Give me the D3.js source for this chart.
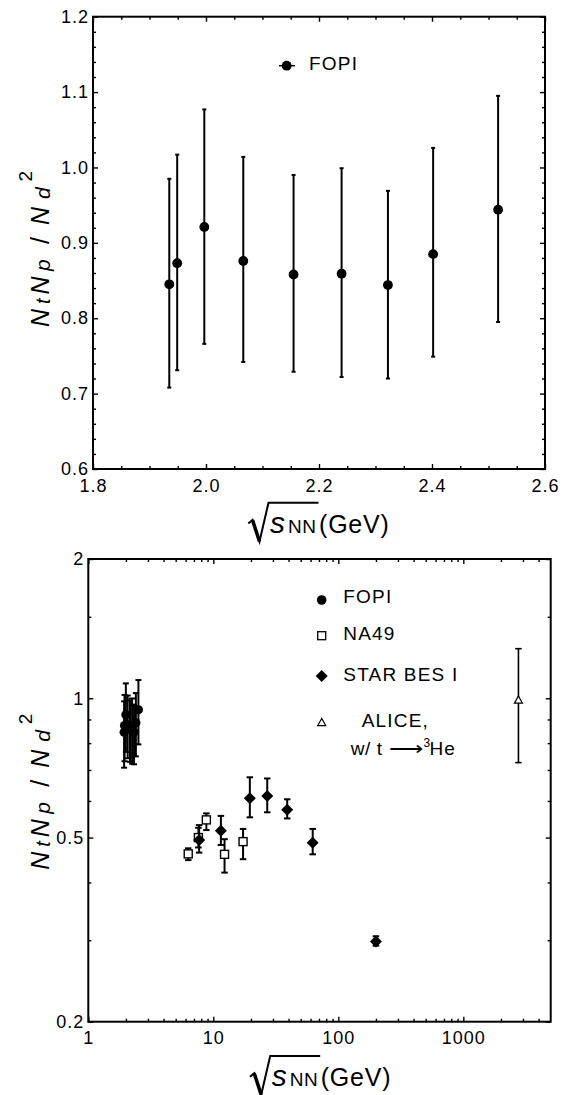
<!DOCTYPE html>
<html><head><meta charset="utf-8">
<script src="https://cdn.jsdelivr.net/npm/d3@7"></script>
<style>
html,body{margin:0;padding:0;background:#fff;}
svg{display:block;}
text{font-family:"Liberation Sans",Arial,Helvetica,sans-serif;fill:#000;}
</style></head><body>
<svg id="chart" width="569" height="1095"></svg>
<script>
// ---------------- data ----------------
const fopiX  = [1.935, 1.949, 1.997, 2.066, 2.155, 2.240, 2.322, 2.402, 2.517];
const fopiY  = [0.845, 0.873, 0.921, 0.876, 0.858, 0.859, 0.844, 0.885, 0.944];
const fopiHi = [0.985, 1.017, 1.077, 1.014, 0.990, 0.999, 0.969, 1.026, 1.095];
const fopiLo = [0.708, 0.731, 0.766, 0.742, 0.729, 0.722, 0.720, 0.749, 0.795];

const na49X  = [6.3, 7.6, 8.8, 12.3, 17.3];
const na49Y  = [0.461, 0.500, 0.546, 0.460, 0.490];
const na49Hi = [0.474, 0.525, 0.564, 0.496, 0.522];
const na49Lo = [0.447, 0.476, 0.519, 0.420, 0.449];

const starX  = [7.7, 11.5, 19.6, 27, 39, 62.4, 200];
const starY  = [0.494, 0.517, 0.608, 0.615, 0.574, 0.487, 0.298];
const starHi = [0.532, 0.557, 0.675, 0.671, 0.605, 0.522, 0.306];
const starLo = [0.464, 0.482, 0.553, 0.567, 0.550, 0.460, 0.292];

const aliceX  = [2760];
const aliceY  = [0.99];
const aliceHi = [1.28];
const aliceLo = [0.726];

const topXTicks = [1.8, 2.0, 2.2, 2.4, 2.6];
const topYTicks = [0.6, 0.7, 0.8, 0.9, 1.0, 1.1, 1.2];
const botXTicks = [1, 10, 100, 1000];
const botYTicks = [0.2, 0.5, 1, 2];
const botYMinor = [0.3, 0.4, 0.6, 0.7, 0.8, 0.9, 1.5];
const botXMinor = [2,3,4,5,6,7,8,9,20,30,40,50,60,70,80,90,200,300,400,500,600,700,800,900,2000,3000,4000];

const legendTop = ["FOPI"];
const legendBot = ["FOPI", "NA49", "STAR BES I", "ALICE,"];

// ---------------- helpers ----------------
const svg = d3.select("#chart");
const FONT = '"Liberation Sans",Arial,Helvetica,sans-serif';

function styleAxis(g, fs){
  g.attr("font-size", fs).attr("font-family", FONT);
  g.select(".domain").remove();
  g.selectAll(".tick line").attr("stroke","#000").attr("stroke-width",1.4);
  g.selectAll(".tick text").attr("fill","#000").attr("letter-spacing",1);
}

function frame(P){
  svg.append("rect").attr("x",P.left).attr("y",P.top)
    .attr("width",P.right-P.left).attr("height",P.bottom-P.top)
    .attr("fill","none").attr("stroke","#000").attr("stroke-width",2);
}

function errBars(g, xs, ys, his, los, x, y, cap, sw){
  xs.forEach((xv,i)=>{
    const cx = x(xv);
    g.append("line").attr("x1",cx).attr("x2",cx).attr("y1",y(his[i])).attr("y2",y(los[i]))
      .attr("stroke","#000").attr("stroke-width",sw);
    [his[i],los[i]].forEach(v=>{
      g.append("line").attr("x1",cx-cap/2).attr("x2",cx+cap/2).attr("y1",y(v)).attr("y2",y(v))
        .attr("stroke","#000").attr("stroke-width",sw);
    });
  });
}

function diamondPath(cx,cy,w,h){
  return `M${cx},${cy-h/2}L${cx+w/2},${cy}L${cx},${cy+h/2}L${cx-w/2},${cy}Z`;
}
function trianglePath(cx,cy,s){
  const h = s*0.9;
  return `M${cx},${cy-h*0.6}L${cx+s/2},${cy+h*0.4}L${cx-s/2},${cy+h*0.4}Z`;
}

// rotated y title; (bx = baseline screen x, cy = centre screen y)
function yTitle(bx, cy){
  const g = svg.append("g").attr("transform",`translate(${bx},${cy}) rotate(-90)`);
  const t = g.append("text").attr("font-size",25);
  const s0 = -79.5;
  t.append("tspan").attr("x",s0).attr("y",0).attr("font-style","italic").text("N");
  t.append("tspan").attr("x",s0+23).attr("y",1).attr("font-style","italic").attr("font-size",20).text("t");
  t.append("tspan").attr("x",s0+32.5).attr("y",0).attr("font-style","italic").text("N");
  t.append("tspan").attr("x",s0+56).attr("y",1).attr("font-style","italic").attr("font-size",21).text("p");
  t.append("tspan").attr("x",s0+83).attr("y",0).text("/");
  t.append("tspan").attr("x",s0+102).attr("y",0).attr("font-style","italic").text("N");
  t.append("tspan").attr("x",s0+128).attr("y",1).attr("font-style","italic").attr("font-size",21).text("d");
  t.append("tspan").attr("x",s0+145.5).attr("y",-17.3).attr("font-size",19).text("2");
}

function xTitle(ox, oy){
  const g = svg.append("g").attr("transform",`translate(${ox},${oy})`);
  g.append("path").attr("d","M248.3,523.5L252.5,520L259.5,541.5L268.5,502.7L318.5,502.7")
    .attr("fill","none").attr("stroke","#000").attr("stroke-width",2).attr("stroke-linejoin","miter");
  g.append("path").attr("d","M252.5,520L259.5,541.5").attr("stroke","#000").attr("stroke-width",3.5);
  const t = g.append("text").attr("x",270).attr("y",533).attr("font-size",30);
  t.append("tspan").attr("font-style","italic").text("s");
  t.append("tspan").attr("font-size",19).attr("x",288).attr("letter-spacing",0.5).text("NN");
  t.append("tspan").attr("font-size",25).attr("x",319).attr("letter-spacing",0.8).text("(GeV)");
}

// ---------------- top panel ----------------
const T = {left:93, top:16.7, right:545, bottom:469};
const xTop = d3.scaleLinear().domain([1.8,2.6]).range([T.left,T.right]);
const yTop = d3.scaleLinear().domain([0.6,1.2]).range([T.bottom,T.top]);
const topXMinor = d3.range(0,17).map(i=>+(1.8+i*0.05).toFixed(2)).filter(v=>!topXTicks.some(t=>Math.abs(t-v)<1e-6));
const topYMinor = d3.range(0,31).map(i=>+(0.6+i*0.02).toFixed(2)).filter(v=>!topYTicks.some(t=>Math.abs(t-v)<1e-6));

svg.append("g").attr("transform",`translate(0,${T.bottom})`)
  .call(d3.axisBottom(xTop).tickValues(topXTicks).tickSize(-5).tickPadding(10).tickFormat(d3.format(".1f")))
  .call(g=>styleAxis(g,18));
svg.append("g").attr("transform",`translate(0,${T.bottom})`)
  .call(d3.axisBottom(xTop).tickValues(topXMinor).tickSize(-3).tickFormat(""))
  .call(g=>styleAxis(g,18));
svg.append("g").attr("transform",`translate(0,${T.top})`)
  .call(d3.axisTop(xTop).tickValues(topXTicks).tickSize(-5).tickFormat(""))
  .call(g=>styleAxis(g,18));
svg.append("g").attr("transform",`translate(0,${T.top})`)
  .call(d3.axisTop(xTop).tickValues(topXMinor).tickSize(-3).tickFormat(""))
  .call(g=>styleAxis(g,18));
svg.append("g").attr("transform",`translate(${T.left},0)`)
  .call(d3.axisLeft(yTop).tickValues(topYTicks).tickSize(-5).tickPadding(4).tickFormat(d3.format(".1f")))
  .call(g=>styleAxis(g,18));
svg.append("g").attr("transform",`translate(${T.left},0)`)
  .call(d3.axisLeft(yTop).tickValues(topYMinor).tickSize(-3).tickFormat(""))
  .call(g=>styleAxis(g,18));
svg.append("g").attr("transform",`translate(${T.right},0)`)
  .call(d3.axisRight(yTop).tickValues(topYTicks).tickSize(-5).tickFormat(""))
  .call(g=>styleAxis(g,18));
svg.append("g").attr("transform",`translate(${T.right},0)`)
  .call(d3.axisRight(yTop).tickValues(topYMinor).tickSize(-3).tickFormat(""))
  .call(g=>styleAxis(g,18));
frame(T);

const gTop = svg.append("g");
errBars(gTop, fopiX, fopiY, fopiHi, fopiLo, xTop, yTop, 4, 2);
gTop.selectAll("circle").data(fopiX).join("circle")
  .attr("cx",d=>xTop(d)).attr("cy",(d,i)=>yTop(fopiY[i])).attr("r",4.9).attr("fill","#000");

// top legend
svg.append("line").attr("x1",279).attr("x2",295).attr("y1",65.7).attr("y2",65.7).attr("stroke","#000").attr("stroke-width",1.5);
svg.append("circle").attr("cx",286.7).attr("cy",65.7).attr("r",4.9).attr("fill","#000");
svg.append("text").attr("x",309).attr("y",69.5).attr("font-size",19).attr("letter-spacing",1.2).text(legendTop[0]);

yTitle(49.3, 247.5);
xTitle(0, 0);

// ---------------- bottom panel ----------------
const B = {left:88.3, top:559, right:550.7, bottom:1021.7};
const xBot = d3.scaleLog().domain([1,5000]).range([B.left,B.right]);
const yBot = d3.scaleLog().domain([0.2,2]).range([B.bottom,B.top]);

svg.append("g").attr("transform",`translate(0,${B.bottom})`)
  .call(d3.axisBottom(xBot).tickValues(botXTicks).tickSize(-5).tickPadding(10).tickFormat(d3.format("d")))
  .call(g=>styleAxis(g,18));
svg.append("g").attr("transform",`translate(0,${B.bottom})`)
  .call(d3.axisBottom(xBot).tickValues(botXMinor).tickSize(-3).tickFormat(""))
  .call(g=>styleAxis(g,18));
svg.append("g").attr("transform",`translate(0,${B.top})`)
  .call(d3.axisTop(xBot).tickValues(botXTicks).tickSize(-5).tickFormat(""))
  .call(g=>styleAxis(g,18));
svg.append("g").attr("transform",`translate(0,${B.top})`)
  .call(d3.axisTop(xBot).tickValues(botXMinor).tickSize(-3).tickFormat(""))
  .call(g=>styleAxis(g,18));
svg.append("g").attr("transform",`translate(${B.left},0)`)
  .call(d3.axisLeft(yBot).tickValues(botYTicks).tickSize(-5).tickPadding(4).tickFormat(d=>String(d)))
  .call(g=>styleAxis(g,18));
svg.append("g").attr("transform",`translate(${B.left},0)`)
  .call(d3.axisLeft(yBot).tickValues(botYMinor).tickSize(-3).tickFormat(""))
  .call(g=>styleAxis(g,18));
svg.append("g").attr("transform",`translate(${B.right},0)`)
  .call(d3.axisRight(yBot).tickValues(botYTicks).tickSize(-5).tickFormat(""))
  .call(g=>styleAxis(g,18));
svg.append("g").attr("transform",`translate(${B.right},0)`)
  .call(d3.axisRight(yBot).tickValues(botYMinor).tickSize(-3).tickFormat(""))
  .call(g=>styleAxis(g,18));
frame(B);

const gB = svg.append("g");
// FOPI
errBars(gB, fopiX, fopiY, fopiHi, fopiLo, xBot, yBot, 6, 2);
fopiX.forEach((xv,i)=>{
  gB.append("circle").attr("cx",xBot(xv)).attr("cy",yBot(fopiY[i])).attr("r",4.6).attr("fill","#000");
});
// NA49
errBars(gB, na49X, na49Y, na49Hi, na49Lo, xBot, yBot, 6.5, 2);
na49X.forEach((xv,i)=>{
  gB.append("rect").attr("x",xBot(xv)-4).attr("y",yBot(na49Y[i])-4).attr("width",8).attr("height",8)
    .attr("fill","#fff").attr("stroke","#000").attr("stroke-width",1.4);
});
// STAR
errBars(gB, starX, starY, starHi, starLo, xBot, yBot, 6.5, 2);
starX.forEach((xv,i)=>{
  gB.append("path").attr("d",diamondPath(xBot(xv),yBot(starY[i]),12,12)).attr("fill","#000");
});
// ALICE
errBars(gB, aliceX, aliceY, aliceHi, aliceLo, xBot, yBot, 6.5, 1.6);
aliceX.forEach((xv,i)=>{
  gB.append("path").attr("d",trianglePath(xBot(xv),yBot(aliceY[i]),8)).attr("fill","#fff")
    .attr("stroke","#000").attr("stroke-width",1.2);
});

// bottom legend
const lx = 321.7;
svg.append("circle").attr("cx",lx).attr("cy",600).attr("r",4.8).attr("fill","#000");
svg.append("rect").attr("x",lx-4).attr("y",635.7-4).attr("width",8).attr("height",8).attr("fill","#fff").attr("stroke","#000").attr("stroke-width",1.3);
svg.append("path").attr("d",diamondPath(lx,676,12,12)).attr("fill","#000");
svg.append("path").attr("d",trianglePath(lx,722.7,8)).attr("fill","#fff").attr("stroke","#000").attr("stroke-width",1.2);
const lys = [602.5, 640, 680.5];
legendBot.slice(0,3).forEach((s,i)=>{
  svg.append("text").attr("x",343.3).attr("y",lys[i]).attr("font-size",19).attr("letter-spacing",1.2).text(s);
});
svg.append("text").attr("x",361.7).attr("y",727).attr("font-size",19).attr("letter-spacing",1.2).text(legendBot[3]);
svg.append("text").attr("x",350.7).attr("y",755).attr("font-size",19).attr("letter-spacing",0.6).text("w/ t");
svg.append("text").attr("x",389).attr("y",755).attr("font-size",19).attr("font-family","DejaVu Sans")
  .attr("textLength",34).attr("lengthAdjust","spacingAndGlyphs").text("\u27F6");
svg.append("text").attr("x",423.5).attr("y",747).attr("font-size",12).text("3");
svg.append("text").attr("x",429.5).attr("y",755).attr("font-size",19).attr("letter-spacing",1).text("He");

yTitle(49.3, 790.3);
xTitle(1.7, 553.3);
</script>
</body></html>
